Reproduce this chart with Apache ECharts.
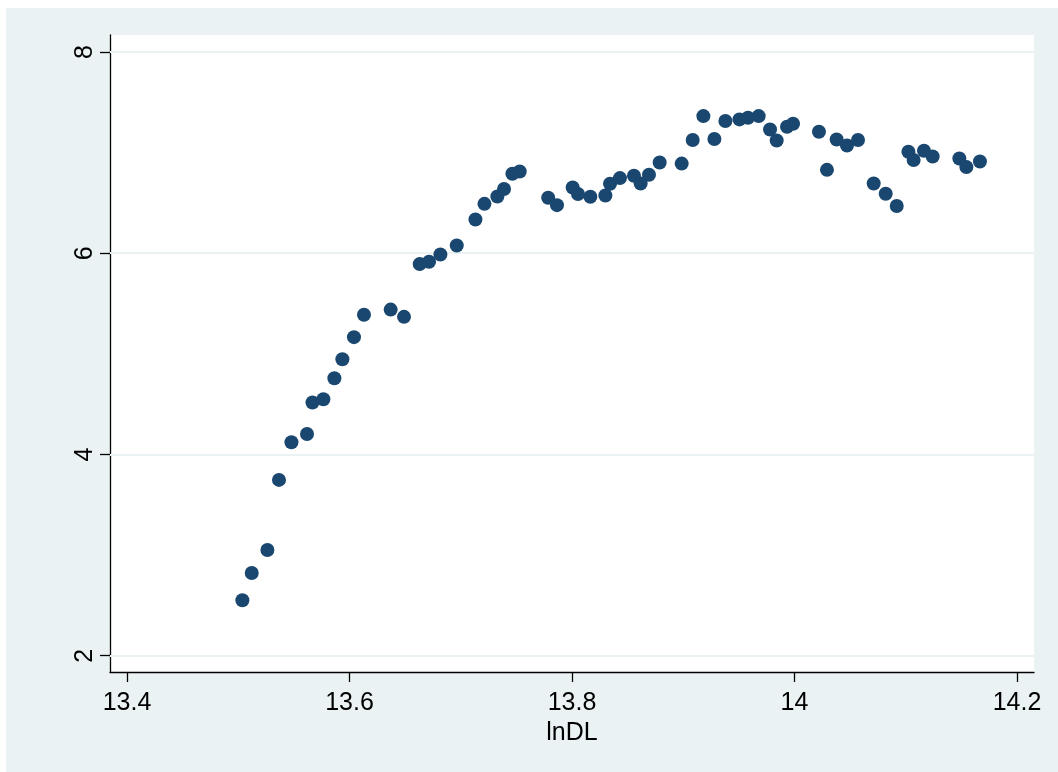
<!DOCTYPE html>
<html>
<head>
<meta charset="utf-8">
<script src="https://cdn.jsdelivr.net/npm/echarts@6/dist/echarts.min.js"></script>
<style>
  html, body { margin: 0; padding: 0; background: #ffffff; }
  #chart { position: absolute; left: 6px; top: 8px; width: 1052px; height: 764px; }
</style>
</head>
<body>
<div id="chart"></div>
<script>
// lnDL on the horizontal axis, outcome on the vertical axis
const lnDL = [
  13.5037, 13.5121, 13.5262, 13.5366, 13.5478, 13.5618, 13.5667, 13.5765, 13.5864, 13.5936,
  13.6040, 13.6130, 13.6370, 13.6490, 13.6631, 13.6715, 13.6817, 13.6964, 13.7132, 13.7213,
  13.7329, 13.7389, 13.7464, 13.7530, 13.7786, 13.7865, 13.8006, 13.8054, 13.8165, 13.8300,
  13.8342, 13.8431, 13.8557, 13.8617, 13.8692, 13.8788, 13.8986, 13.9085, 13.9181, 13.9280,
  13.9379, 13.9505, 13.9582, 13.9678, 13.9780, 13.9840, 13.9933, 13.9987, 14.0220, 14.0292,
  14.0379, 14.0472, 14.0571, 14.0712, 14.0820, 14.0919, 14.1024, 14.1071, 14.1164, 14.1242,
  14.1482, 14.1545, 14.1667
];
const yValues = [
  2.551, 2.822, 3.051, 3.747, 4.122, 4.204, 4.516, 4.549, 4.758, 4.947,
  5.166, 5.388, 5.440, 5.368, 5.892, 5.915, 5.987, 6.077, 6.335, 6.491,
  6.564, 6.638, 6.790, 6.813, 6.551, 6.478, 6.653, 6.588, 6.561, 6.574,
  6.690, 6.747, 6.770, 6.693, 6.780, 6.902, 6.891, 7.125, 7.363, 7.135,
  7.314, 7.330, 7.347, 7.363, 7.230, 7.121, 7.257, 7.287, 7.207, 6.829,
  7.131, 7.071, 7.125, 6.693, 6.591, 6.469, 7.008, 6.926, 7.018, 6.962,
  6.942, 6.856, 6.912
];
const xTicks = [13.4, 13.6, 13.8, 14, 14.2];
const yTicks = [2, 4, 6, 8];

const points = lnDL.map((x, i) => [x, yValues[i]]);
const FONT = '"Liberation Sans", Arial, sans-serif';

const chart = echarts.init(document.getElementById('chart'), null, { renderer: 'canvas' });
chart.setOption({
  backgroundColor: '#eaf2f3',
  animation: false,
  grid: {
    left: 104, right: 24, top: 27, bottom: 100,
    show: true, backgroundColor: '#ffffff', borderWidth: 0
  },
  xAxis: {
    type: 'value',
    min: 13.3847, max: 14.2153,
    name: 'lnDL', nameLocation: 'middle', nameGap: 46,
    nameTextStyle: { color: '#000000', fontSize: 25, fontFamily: FONT },
    axisLine: { show: true, onZero: false, lineStyle: { color: '#000000', width: 1.3 } },
    axisTick: { show: true, customValues: xTicks, length: 10, inside: false,
                lineStyle: { color: '#000000', width: 1.3 } },
    axisLabel: { customValues: xTicks, margin: 19, color: '#000000', fontSize: 25, fontFamily: FONT,
                 showMinLabel: true, showMaxLabel: true },
    splitLine: { show: false }
  },
  yAxis: {
    type: 'value',
    min: 1.838, max: 8.169,
    axisLine: { show: true, onZero: false, lineStyle: { color: '#000000', width: 1.3 } },
    axisTick: { show: true, customValues: yTicks, length: 10, inside: false,
                lineStyle: { color: '#000000', width: 1.3 } },
    axisLabel: { customValues: yTicks, rotate: 90, margin: 12, color: '#000000', fontSize: 25, fontFamily: FONT,
                 showMinLabel: true, showMaxLabel: true },
    splitLine: { show: false }
  },
  series: [{
    type: 'scatter',
    data: points,
    symbol: 'circle',
    symbolSize: 14,
    itemStyle: { color: '#1a476f', opacity: 1 },
    z: 3,
    markLine: {
      silent: true,
      symbol: ['none', 'none'],
      label: { show: false },
      lineStyle: { color: '#eaf2f3', width: 2.2, type: 'solid' },
      data: yTicks.map(v => ({ yAxis: v })),
      z: 1
    }
  }]
});
</script>
</body>
</html>
